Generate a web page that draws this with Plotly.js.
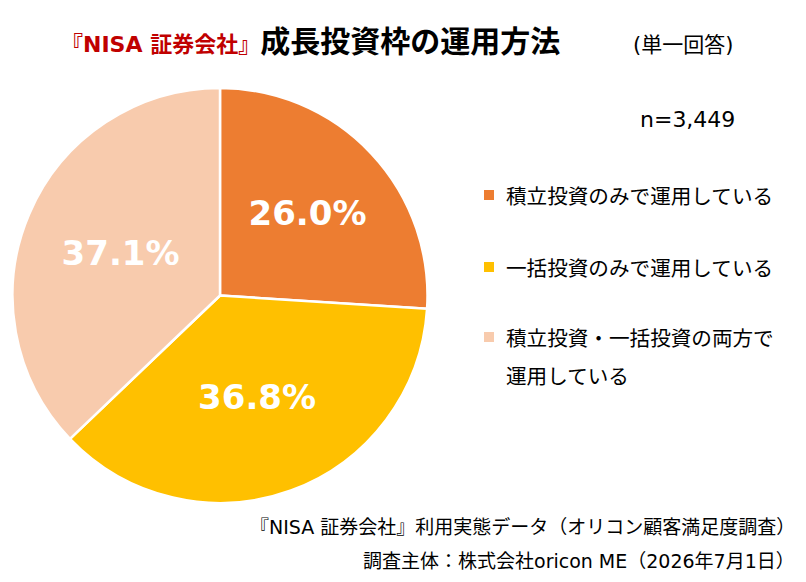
<!DOCTYPE html>
<html>
<head>
<meta charset="utf-8">
<script src="https://cdn.plot.ly/plotly-3.0.1.min.js"></script>
<style>
  html, body { margin: 0; padding: 0; background: #ffffff; }
  #chart { width: 806px; height: 582px; }
</style>
</head>
<body>
<div id="chart"></div>
<script>
// Survey answers (single choice), n = 3,449
const labels = ['積立投資のみで運用している', '一括投資のみで運用している', '積立投資・一括投資の両方で運用している'];
const shares = [26.0, 36.8, 37.1];
const colors = ['#ED7D31', '#FFC000', '#F8CBAD'];
const sampleSize = 'n=3,449';

const W = 806, H = 582;
const px = v => v / W;
const py = v => 1 - v / H;

// Latin glyphs from DejaVu, Japanese glyphs from Noto CJK
const JP = '"DejaVu Sans", "Noto Sans CJK JP", sans-serif';
const JPCJK = '"Noto Sans CJK JP", sans-serif';

const pie = {
  type: 'pie',
  labels: labels,
  values: shares,
  sort: false,
  direction: 'clockwise',
  rotation: 0,
  marker: { colors: colors, line: { color: '#ffffff', width: 2.5 } },
  texttemplate: '%{value:.1f}%',
  textposition: 'inside',
  insidetextorientation: 'horizontal',
  textfont: { family: '"DejaVu Sans", Verdana, sans-serif', size: 34, color: '#ffffff', weight: 'bold' },
  hoverinfo: 'label+value',
  showlegend: false,
  domain: { x: [px(12), px(428)], y: [py(503), py(88)] }
};

const annotations = [];
const shapes = [];

// Title line
annotations.push({
  xref: 'paper', yref: 'paper', x: px(59), y: py(42), xanchor: 'left', yanchor: 'middle', showarrow: false,
  text: '<span style="color:#C00000;font-size:22px"><b>『NISA 証券会社』</b></span><b>成長投資枠の運用方法</b>',
  font: { family: JP, size: 30, color: '#000000' }
});
annotations.push({
  xref: 'paper', yref: 'paper', x: px(683), y: py(45), xanchor: 'center', yanchor: 'middle', showarrow: false,
  text: '(単一回答)', font: { family: JP, size: 21, color: '#000000' }
});
annotations.push({
  xref: 'paper', yref: 'paper', x: px(737), y: py(120), xanchor: 'right', yanchor: 'middle', showarrow: false,
  text: sampleSize, font: { family: JP, size: 22, color: '#000000' }
});

// Legend: square swatch + label, long labels broken onto a second line
const legendTop = [195, 267, 337];
const lineGap = 38;
labels.forEach((lab, i) => {
  const y = legendTop[i];
  shapes.push({
    type: 'rect', xref: 'paper', yref: 'paper',
    x0: px(484), x1: px(494), y0: py(y - 5), y1: py(y + 5),
    fillcolor: colors[i], line: { width: 0 }
  });
  const lines = lab.length > 14 ? [lab.slice(0, 13), lab.slice(13)] : [lab];
  lines.forEach((t, k) => {
    annotations.push({
      xref: 'paper', yref: 'paper', x: px(504), y: py(y + k * lineGap), xanchor: 'left', yanchor: 'middle', showarrow: false,
      text: t, font: { family: JPCJK, size: 20.6, color: '#000000' }
    });
  });
});

// Source lines
annotations.push({
  xref: 'paper', yref: 'paper', x: px(797), y: py(527), xanchor: 'right', yanchor: 'middle', showarrow: false,
  text: '『NISA 証券会社』利用実態データ（オリコン顧客満足度調査）', font: { family: JP, size: 19, color: '#000000' }
});
annotations.push({
  xref: 'paper', yref: 'paper', x: px(797), y: py(561), xanchor: 'right', yanchor: 'middle', showarrow: false,
  text: '調査主体：株式会社oricon ME（2026年7月1日）', font: { family: JP, size: 19, color: '#000000' }
});

const layout = {
  width: W, height: H,
  margin: { l: 0, r: 0, t: 0, b: 0 },
  paper_bgcolor: '#ffffff',
  plot_bgcolor: '#ffffff',
  showlegend: false,
  annotations: annotations,
  shapes: shapes
};

Plotly.newPlot('chart', [pie], layout, { displayModeBar: false, staticPlot: true });
</script>
</body>
</html>
